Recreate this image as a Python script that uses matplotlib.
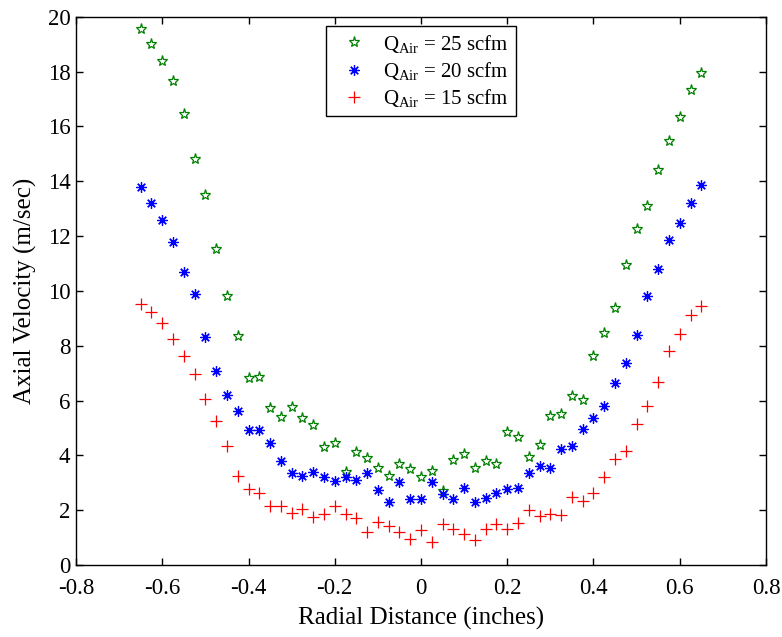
#!/usr/bin/env python3
"""Axial velocity profiles across the radial distance for three air flow rates."""

import matplotlib

matplotlib.use("Agg")
import matplotlib.pyplot as plt

# radial positions, 53 stations at 0.025 in spacing
radial_in = [round(-0.65 + 0.025 * i, 3) for i in range(53)]

vel_25scfm = [
    19.55, 18.99, 18.37, 17.64, 16.45, 14.82, 13.50, 11.51, 9.82, 8.36,
    6.81, 6.85, 5.72, 5.41, 5.76, 5.38, 5.12, 4.32, 4.44, 3.39,
    4.14, 3.89, 3.55, 3.25, 3.70, 3.52, 3.21, 3.42, 2.71, 3.83,
    4.04, 3.55, 3.80, 3.69, 4.85, 4.66, 3.95, 4.37, 5.44, 5.50,
    6.18, 6.02, 7.63, 8.46, 9.37, 10.95, 12.27, 13.11, 14.40, 15.46,
    16.33, 17.34, 17.95,
]
vel_20scfm = [
    13.77, 13.19, 12.59, 11.78, 10.67, 9.88, 8.30, 7.08, 6.20, 5.62,
    4.93, 4.93, 4.45, 3.80, 3.35, 3.26, 3.39, 3.22, 3.05, 3.22,
    3.09, 3.37, 2.74, 2.31, 3.04, 2.40, 2.42, 3.03, 2.58, 2.42,
    2.82, 2.30, 2.46, 2.62, 2.77, 2.80, 3.37, 3.62, 3.53, 4.22,
    4.35, 4.97, 5.38, 5.79, 6.63, 7.36, 8.38, 9.83, 10.80, 11.84,
    12.47, 13.20, 13.87,
]
vel_15scfm = [
    9.51, 9.22, 8.81, 8.24, 7.64, 6.96, 6.05, 5.27, 4.34, 3.26,
    2.76, 2.62, 2.15, 2.15, 1.89, 2.06, 1.75, 1.86, 2.16, 1.85,
    1.72, 1.22, 1.56, 1.41, 1.19, 0.96, 1.28, 0.83, 1.49, 1.30,
    1.13, 0.92, 1.31, 1.48, 1.31, 1.52, 2.01, 1.79, 1.87, 1.81,
    2.48, 2.34, 2.64, 3.22, 3.87, 4.17, 5.13, 5.81, 6.67, 7.82,
    8.41, 9.12, 9.44,
]

x_ticks = [-0.8, -0.6, -0.4, -0.2, 0, 0.2, 0.4, 0.6, 0.8]
x_tick_labels = ["-0.8", "-0.6", "-0.4", "-0.2", "0", "0.2", "0.4", "0.6", "0.8"]
y_ticks = [0, 2, 4, 6, 8, 10, 12, 14, 16, 18, 20]


def main() -> None:
    plt.rcParams["font.family"] = ["Liberation Serif", "DejaVu Serif"]
    plt.rcParams["mathtext.fontset"] = "custom"
    plt.rcParams["mathtext.rm"] = "Liberation Serif"
    plt.rcParams["mathtext.it"] = "Liberation Serif:italic"

    fig = plt.figure(figsize=(7.82, 6.37), dpi=100)
    ax = fig.add_axes([0.0972, 0.113, 0.8823, 0.8608])

    ax.plot(radial_in, vel_25scfm, linestyle="none", marker="*", markersize=8,
            markerfacecolor="none", markeredgecolor="#008000", markeredgewidth=0.9,
            label=r"Q$_{\mathrm{Air}}$ = 25 scfm")
    ax.plot(radial_in, vel_20scfm, linestyle="none", marker=(8, 2, 0), markersize=7.5,
            color="#0000ff", markeredgewidth=0.9,
            label=r"Q$_{\mathrm{Air}}$ = 20 scfm")
    ax.plot(radial_in, vel_15scfm, linestyle="none", marker="+", markersize=8,
            color="#ff0000", markeredgewidth=0.9,
            label=r"Q$_{\mathrm{Air}}$ = 15 scfm")

    ax.set_xlim(-0.8, 0.8)
    ax.set_ylim(0, 20)
    ax.set_xticks(x_ticks)
    ax.set_xticklabels(x_tick_labels)
    ax.set_yticks(y_ticks)
    ax.tick_params(direction="in", length=5, width=1, top=True, right=True,
                   labelsize=16.5)
    ax.tick_params(axis="x", pad=9)
    ax.tick_params(axis="y", pad=4)
    for spine in ax.spines.values():
        spine.set_linewidth(1.0)

    ax.set_xlabel("Radial Distance (inches)", fontsize=18, labelpad=6)
    ax.set_ylabel("Axial Velocity (m/sec)", fontsize=18, labelpad=8)

    leg = ax.legend(loc="upper center", bbox_to_anchor=(0.5, 0.983), borderaxespad=0,
                    fontsize=15, fancybox=False, framealpha=1, edgecolor="black",
                    handletextpad=0.4, borderpad=0.32, labelspacing=0.25,
                    handlelength=2.0)
    leg.get_frame().set_linewidth(1.0)

    fig.savefig("out.png", dpi=100)
    plt.close(fig)


if __name__ == "__main__":
    main()
